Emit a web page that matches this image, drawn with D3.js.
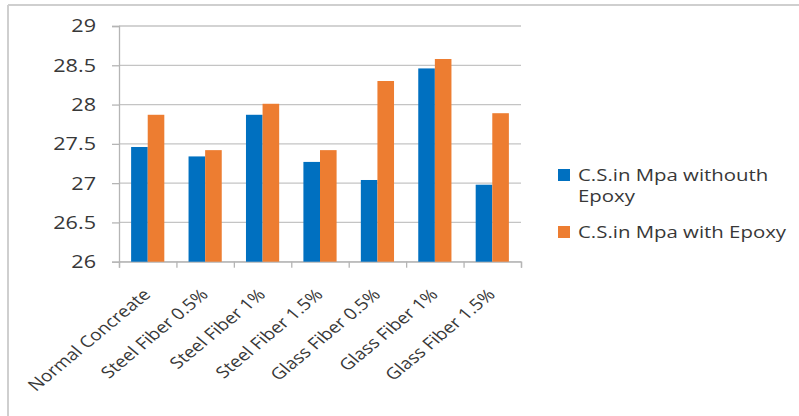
<!DOCTYPE html>
<html>
<head>
<meta charset="utf-8">
<script src="https://cdn.jsdelivr.net/npm/d3@7"></script>
<style>
  html, body { margin: 0; padding: 0; background: #fff; }
  svg { display: block; }
  text { font-family: "Open Sans", "Noto Sans", sans-serif; fill: #383838; }
</style>
</head>
<body>
<svg id="chart" width="799" height="416"></svg>
<script>
// Compressive strength (MPa) per mix, without and with epoxy
const categories = ["Normal Concreate", "Steel Fiber 0.5%", "Steel Fiber 1%", "Steel Fiber 1.5%",
                    "Glass Fiber 0.5%", "Glass Fiber 1%", "Glass Fiber 1.5%"];
const seriesNames = ["C.S.in Mpa withouth Epoxy", "C.S.in Mpa with Epoxy"];
const withoutEpoxy = [27.46, 27.34, 27.87, 27.27, 27.04, 28.46, 26.98];
const withEpoxy    = [27.87, 27.42, 28.01, 27.42, 28.30, 28.58, 27.89];
const yTicks = [26, 26.5, 27, 27.5, 28, 28.5, 29];
const colors = ["#0070C0", "#ED7D31"];

// the chart's text is set slightly wide
const stretch = 1.2;

const svg = d3.select("#chart");

// outer frame (top and left edges)
svg.append("line").attr("x1", 8).attr("x2", 799).attr("y1", 5).attr("y2", 5)
  .attr("stroke", "#cfcfcf").attr("stroke-width", 2);
svg.append("line").attr("x1", 8).attr("x2", 8).attr("y1", 5).attr("y2", 416)
  .attr("stroke", "#cfcfcf").attr("stroke-width", 2);

const plot = { left: 119, right: 521, top: 26, bottom: 261.7 };

const x = d3.scaleBand().domain(categories).range([plot.left, plot.right]).padding(0);
const xSub = d3.scaleBand().domain([0, 1]).range([0, x.bandwidth()]).paddingInner(0).paddingOuter(0.73);
const y = d3.scaleLinear().domain([26, 29]).range([plot.bottom, plot.top]);

// horizontal gridlines
svg.append("g").selectAll("line").data(yTicks).join("line")
  .attr("x1", plot.left).attr("x2", plot.right)
  .attr("y1", d => y(d)).attr("y2", d => y(d))
  .attr("stroke", "#c4c4c4").attr("stroke-width", 1.3);

// y axis (line and outside ticks)
const yAxis = svg.append("g").attr("transform", `translate(${plot.left},0)`)
  .call(d3.axisLeft(y).tickValues(yTicks).tickSize(7).tickFormat(""));
yAxis.select(".domain").attr("stroke", "#b5b5b5").attr("stroke-width", 1.3);
yAxis.selectAll(".tick line").attr("stroke", "#b5b5b5").attr("stroke-width", 1.3);

// y tick labels
svg.append("g").selectAll("text").data(yTicks).join("text")
  .attr("transform", d => `translate(96,${y(d)}) scale(${stretch},1)`)
  .attr("text-anchor", "end")
  .attr("dy", "0.36em")
  .style("font-size", "18px")
  .text(d => String(d));

// x axis: tick marks on category boundaries
const xb = d3.scaleLinear().domain([0, categories.length]).range([plot.left, plot.right]);
const xAxis = svg.append("g").attr("transform", `translate(0,${plot.bottom})`)
  .call(d3.axisBottom(xb).tickValues(d3.range(categories.length + 1)).tickSize(6).tickFormat(""));
xAxis.select(".domain").attr("stroke", "#b5b5b5").attr("stroke-width", 1.3);
xAxis.selectAll(".tick line").attr("stroke", "#b5b5b5").attr("stroke-width", 1.3);

// rotated category labels
svg.append("g").selectAll("text").data(categories).join("text")
  .attr("transform", d => `translate(${x(d) + x.bandwidth() / 2 + 4},${plot.bottom + 34}) scale(${stretch},1) rotate(-45)`)
  .attr("text-anchor", "end")
  .style("font-size", "16px")
  .text(d => d);

// bars
const rows = categories.map((c, i) => ({ c, vals: [withoutEpoxy[i], withEpoxy[i]] }));
const groups = svg.append("g").selectAll("g").data(rows).join("g")
  .attr("transform", d => `translate(${x(d.c)},0)`);
groups.selectAll("rect").data(d => d.vals.map((v, k) => ({ v, k }))).join("rect")
  .attr("x", d => xSub(d.k))
  .attr("width", xSub.bandwidth())
  .attr("y", d => y(d.v))
  .attr("height", d => y(26) - y(d.v))
  .attr("fill", d => colors[d.k]);

// legend
const legend = svg.append("g");
const legendRows = [
  { lines: ["C.S.in Mpa withouth", "Epoxy"], y: 181 },
  { lines: ["C.S.in Mpa with Epoxy"], y: 238 }
];
legendRows.forEach((r, i) => {
  legend.append("rect").attr("x", 558).attr("y", r.y - 12).attr("width", 12).attr("height", 12)
    .attr("fill", colors[i]);
  r.lines.forEach((ln, j) => legend.append("text")
    .attr("transform", `translate(578,${r.y + j * 21}) scale(1.2,1)`)
    .style("font-size", "17px")
    .text(ln));
});
</script>
</body>
</html>
